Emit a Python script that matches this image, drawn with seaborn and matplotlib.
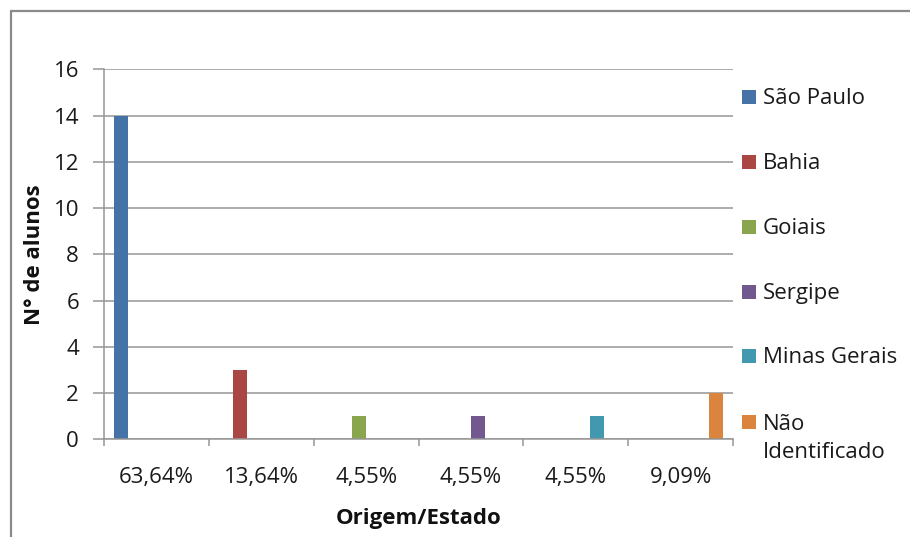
import matplotlib
matplotlib.use("Agg")
import matplotlib.pyplot as plt
import seaborn as sns
import pandas as pd
from matplotlib.lines import Line2D
from matplotlib.patches import Rectangle

# ---- data ----
estados = ["São Paulo", "Bahia", "Goiais", "Sergipe", "Minas Gerais", "Não\nIdentificado"]
alunos = [14, 3, 1, 1, 1, 2]
percentuais = ["63,64%", "13,64%", "4,55%", "4,55%", "4,55%", "9,09%"]
cores = ["#4572A7", "#AA4643", "#89A54E", "#71588F", "#4198AF", "#DB843D"]
yticks = [0, 2, 4, 6, 8, 10, 12, 14, 16]

df = pd.DataFrame({"estado": estados, "alunos": alunos})

sns.set_style("white")
plt.rcParams["font.family"] = ["Open Sans", "DejaVu Sans"]

W, H = 910, 537
fig = plt.figure(figsize=(W / 100, H / 100), dpi=100)
ax = fig.add_axes([104 / W, 1 - 439.3 / H, (733 - 104) / W, (439.3 - 69.3) / H])

sns.barplot(data=df, x="estado", y="alunos", hue="estado", order=estados,
            hue_order=estados, palette=cores, dodge=True, saturation=1,
            linewidth=0, legend=False, ax=ax, width=0.8)

grid_c = "#969696"
ax.set_ylim(0, 16)
ax.set_xlim(-0.5, len(estados) - 0.5)
ax.set_yticks(yticks)
ax.set_yticklabels([str(v) for v in yticks])
ax.yaxis.grid(True, color=grid_c, linewidth=1.1)
ax.set_axisbelow(True)
ax.set_xticks(range(len(estados)))
ax.set_xticklabels(percentuais)
ax.set_xticks([i - 0.5 for i in range(len(estados) + 1)], minor=True)

for s in ["top", "right"]:
    ax.spines[s].set_visible(False)
for s in ["left", "bottom"]:
    ax.spines[s].set_color(grid_c)
    ax.spines[s].set_linewidth(1.1)

ax.tick_params(axis="y", which="major", length=8, width=1.1, color=grid_c,
               pad=10, labelsize=16, labelcolor="#1a1a1a", left=True)
ax.tick_params(axis="x", which="major", length=0, pad=20, labelsize=16,
               labelcolor="#1a1a1a")
ax.tick_params(axis="x", which="minor", length=5, width=1.1, color=grid_c,
               bottom=True, direction="out")

ax.set_xlabel("Origem/Estado", fontsize=16, fontweight="bold", color="#111111")
ax.set_ylabel("N° de alunos", fontsize=16, fontweight="bold", color="#111111")
ax.xaxis.set_label_coords(0.5, -0.185)
ax.yaxis.set_label_coords(-0.094, 0.5)

# ---- legend (manual, Excel-style) ----
centers = [97, 162, 227, 292, 356, 422]
sq = 14
pitch = 29
for nome, cor, yc in zip(estados, cores, centers):
    fig.add_artist(Rectangle((742 / W, 1 - (yc + sq / 2) / H), sq / W, sq / H,
                             transform=fig.transFigure, facecolor=cor,
                             edgecolor="none"))
    extra = nome.count("\n") * pitch
    fig.text(763 / W, 1 - (yc + 7 + extra) / H, nome, fontsize=16,
             color="#1a1a1a", ha="left", va="baseline", linespacing=1.42)

# ---- outer border ----
bc = "#8a8a8a"
fig.add_artist(Line2D([11 / W, 1.0], [1 - 11 / H, 1 - 11 / H],
                      transform=fig.transFigure, color=bc, linewidth=1.6))
fig.add_artist(Line2D([11 / W, 11 / W], [1 - 11 / H, 0.0],
                      transform=fig.transFigure, color=bc, linewidth=1.6))

fig.savefig("out.png", dpi=100, facecolor="white")
